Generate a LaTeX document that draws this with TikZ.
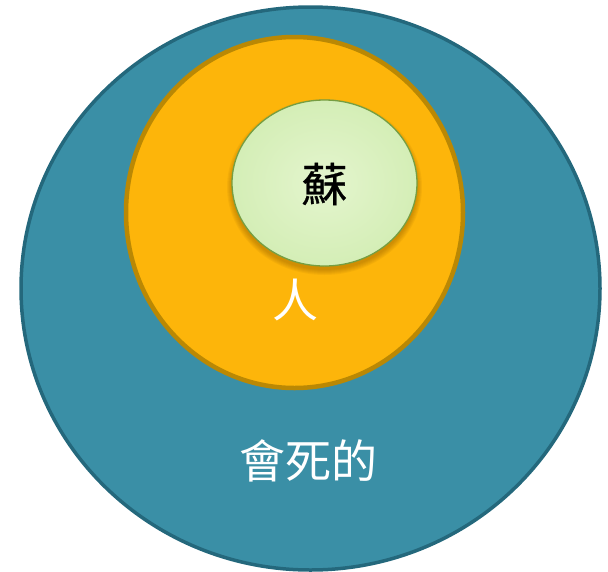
\documentclass[tikz,border=0pt]{standalone}
\usepackage{fontspec}
\newfontfamily\cjk{Noto Sans CJK TC}
\usetikzlibrary{shapes.geometric}
\definecolor{tealfill}{RGB}{58,143,166}
\definecolor{tealline}{RGB}{36,104,124}
\definecolor{orfill}{RGB}{253,181,10}
\definecolor{orline}{RGB}{186,136,4}
\definecolor{grfill}{RGB}{212,238,182}
\definecolor{grcenter}{RGB}{228,245,206}
\definecolor{grline}{RGB}{118,158,66}
\definecolor{shadowc}{RGB}{130,80,0}
\tikzset{
  setbox/.style={ellipse,inner sep=0pt},
  lbl/.style={font=\cjk\fontsize{46}{46}\selectfont, inner sep=0pt},
  shadowring/.style={ellipse, inner sep=0pt, fill=shadowc, fill opacity=0.07}
}
\begin{document}
\begin{tikzpicture}[x=1pt,y=-1pt]
\useasboundingbox (0,0) rectangle (608,571);
\node[setbox, minimum width=579pt, minimum height=563pt, fill=tealfill, draw=tealline, line width=3.5pt] (mortal) at (310.5,288.5) {};
\node[setbox, minimum width=337pt, minimum height=351pt, fill=orfill, draw=orline, line width=4.5pt] (human) at (294.5,212.5) {};
\foreach \d in {0,2,4,6,8,10}{
  \node[shadowring, minimum width=185pt+\d pt, minimum height=166pt+\d pt] at (324.5,187) {};
}
\node[setbox, minimum width=185pt, minimum height=166pt, inner color=grcenter, outer color=grfill, draw=grline, line width=1.3pt] (su) at (324.5,183) {};
\node[lbl, text=black] (sulbl) at (324.5,184) {\addfontfeature{FakeBold=0.6}蘇};
\node[lbl, text=white] (humanlbl) at (295,300) {人};
\node[lbl, text=white] (mortallbl) at (308,461) {會死的};
\end{tikzpicture}
\end{document}
